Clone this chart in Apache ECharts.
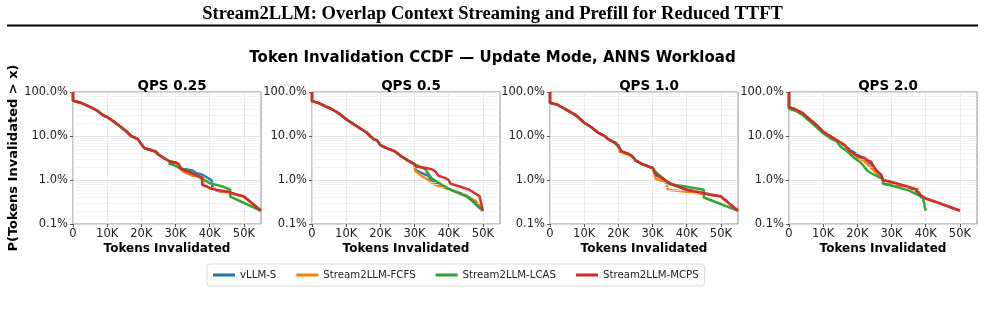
<!DOCTYPE html>
<html>
<head>
<meta charset="utf-8">
<script src="https://cdn.jsdelivr.net/npm/echarts@6/dist/echarts.min.js"></script>
<style>
  html, body { margin: 0; padding: 0; background: #fff; }
  #chart { width: 985px; height: 322px; }
</style>
</head>
<body>
<div id="chart"></div>
<script>
// panel titles and legend names
const panels = ['QPS 0.25', 'QPS 0.5', 'QPS 1.0', 'QPS 2.0'];
const methods = ['vLLM-S', 'Stream2LLM-FCFS', 'Stream2LLM-LCAS', 'Stream2LLM-MCPS'];
const colors = ['#1f77b4', '#ff7f0e', '#2ca02c', '#d62728'];
const xTicks = [0, 10000, 20000, 30000, 40000, 50000];
const yTicks = [0.1, 1, 10, 100];
const minorY = [0.2, 0.3, 0.4, 0.5, 0.6, 0.7, 0.8, 0.9, 2, 3, 4, 5, 6, 7, 8, 9, 20, 30, 40, 50, 60, 70, 80, 90];

// [tokens invalidated, P(>x) in %]
// QPS 0.25
const q025_head = [[0,100],[0,63],[2000,58],[5000,46],[7000,38],[9000,29],[10000,27],[12000,21],[14000,16],[16000,12],[17000,10],[19000,8.5],[20000,6.5],[21000,5.2],[22000,5.0],[24000,4.5],[25000,3.8],[27000,3.0],[28500,2.6],[30000,2.5]];
const q025_vllm = q025_head.concat([[31000,2.1],[32000,1.8],[35000,1.65],[36000,1.45],[38000,1.3],[40000,1.05],[40700,0.95],[40700,0.7],[42000,0.58],[46000,0.5],[50000,0.42],[55000,0.2]]);
const q025_fcfs = q025_head.concat([[31000,2.0],[32000,1.6],[33500,1.4],[35000,1.25],[37000,1.2],[38000,1.15],[38200,0.8],[40000,0.65],[42000,0.58],[46000,0.5],[50000,0.42],[55000,0.2]]);
const q025_lcas = q025_head.concat([[28000,2.4],[30000,2.1],[31000,1.9],[33000,1.7],[35000,1.4],[38000,1.05],[40000,0.85],[44000,0.7],[46000,0.6],[46000,0.42],[55000,0.2]]);
const q025_mcps = q025_head.concat([[31000,2.3],[31500,1.8],[33000,1.6],[35000,1.4],[37000,1.2],[37700,1.15],[37800,0.78],[40000,0.66],[42000,0.6],[45000,0.55],[50000,0.42],[55000,0.2]]);

// QPS 0.5
const q05_head = [[0,100],[0,62],[2000,56],[4000,47],[6000,40],[8000,32],[10000,24],[12000,19],[14000,15],[16000,12],[17000,10],[18000,8.5],[19000,8],[20000,6.2],[22000,5.2],[24000,4.6],[26000,3.5],[28000,2.8],[30000,2.3]];
const q05_vllm = q05_head.concat([[30200,1.7],[32000,1.45],[34000,1.25],[35000,0.95],[37000,0.8],[40000,0.62],[45000,0.45],[50000,0.2]]);
const q05_fcfs = q05_head.concat([[30200,1.6],[32000,1.25],[34000,1.0],[36000,0.78],[40000,0.62],[45000,0.44],[48000,0.33],[50000,0.2]]);
const q05_lcas = q05_head.concat([[30000,2.1],[33000,1.8],[35000,1.1],[38000,0.78],[40000,0.63],[46000,0.4],[50000,0.2]]);
const q05_mcps = q05_head.concat([[30500,2.0],[33000,1.9],[35000,1.75],[36000,1.6],[37000,1.25],[39000,1.1],[40000,1.0],[40500,0.82],[43000,0.72],[46000,0.6],[49000,0.43],[50000,0.2]]);

// QPS 1.0
const q10_head = [[0,100],[0,57],[2000,52],[4000,43],[6000,35],[8000,28],[10000,20],[12000,16],[14000,12],[16000,10],[17000,8.5],[19000,7],[20000,5.8],[21000,4.4],[23000,3.9],[24000,3.5],[25000,2.8],[27000,2.3],[29000,2.0],[30000,1.9]];
const q10_vllm = q10_head.slice(0, 11).concat([[17000,8.5],[19000,7.2],[20000,6.2],[20500,4.6],[23000,3.9],[24000,3.5],[25000,2.8],[27000,2.3],[29000,2.0],[30000,1.9],[31000,1.3],[33000,1.1],[34000,0.95],[36000,0.78],[40000,0.6],[45000,0.5],[50000,0.42],[55000,0.2]]);
const q10_fcfs = q10_head.slice(0, 13).concat([[20500,4.2],[23000,3.8],[24000,3.4],[25000,2.8],[27000,2.3],[29000,2.0],[30000,1.9],[31000,1.05],[33000,0.95],[34000,0.85],[34500,0.6],[40000,0.54],[45000,0.48],[50000,0.42],[55000,0.2]]);
const q10_lcas = q10_head.concat([[31000,1.5],[33000,1.1],[35000,0.8],[40000,0.7],[45000,0.6],[45000,0.4],[55000,0.2]]);
const q10_mcps = q10_head.concat([[31000,1.3],[32000,1.2],[34000,0.95],[36000,0.78],[40000,0.6],[45000,0.5],[50000,0.42],[55000,0.2]]);

// QPS 2.0
const q20_vllm = [[0,100],[0,45],[2000,40],[4000,33],[6000,24],[8000,18],[10000,12.5],[12000,10],[14000,8],[16000,6.2],[18000,4.8],[20000,3.8],[22000,3.0],[24000,2.3],[25000,1.8],[27000,1.3],[27500,0.95],[30000,0.88],[35000,0.68],[37000,0.58],[38500,0.43],[40000,0.38],[45000,0.28],[50000,0.2]];
const q20_fcfs = [[0,100],[0,45],[2000,40],[4000,33],[6000,24],[8000,18],[10000,12.5],[12000,10],[14000,8],[16000,6.4],[18000,4.2],[20000,3.3],[22000,2.7],[24000,1.9],[25000,1.6],[27500,1.05],[27500,0.9],[35000,0.68],[37500,0.65],[38500,0.45],[40000,0.38],[45000,0.28],[50000,0.2]];
const q20_lcas = [[0,100],[0,42],[2000,37],[4000,30],[6000,22],[8000,16],[10000,11.5],[12000,9],[14000,7.5],[15000,5.8],[17000,4.5],[19000,3.2],[21000,2.5],[22000,2.0],[23000,1.6],[25000,1.3],[27500,1.05],[27500,0.82],[30000,0.75],[35000,0.58],[38000,0.45],[39200,0.38],[40000,0.2]];
const q20_mcps = [[0,100],[0,45],[2000,40],[4000,33],[6000,24],[8000,18],[10000,12.5],[12000,10],[14000,8],[16000,6.5],[18000,4.5],[20000,3.5],[22000,3.2],[23000,2.8],[24000,2.6],[25000,1.9],[26000,1.5],[27000,1.3],[27500,1.0],[30000,0.9],[35000,0.7],[37000,0.62],[38500,0.45],[40000,0.38],[45000,0.28],[50000,0.2]];

const panelData = [
  [q025_vllm, q025_fcfs, q025_lcas, q025_mcps],
  [q05_vllm, q05_fcfs, q05_lcas, q05_mcps],
  [q10_vllm, q10_fcfs, q10_lcas, q10_mcps],
  [q20_vllm, q20_fcfs, q20_lcas, q20_mcps]
];

const gridLefts = [73, 312, 550, 789];
const gridW = 188, gridTop = 92, gridH = 132;

const chart = echarts.init(document.getElementById('chart'), null, { renderer: 'canvas' });

const grids = [], xAxes = [], yAxes = [], series = [], titles = [];

titles.push({
  text: 'Stream2LLM: Overlap Context Streaming and Prefill for Reduced TTFT',
  left: 'center', top: 0,
  textStyle: { fontFamily: 'Liberation Serif', fontWeight: 'bold', fontSize: 18.5, color: '#000' }
});
titles.push({
  text: 'Token Invalidation CCDF \u2014 Update Mode, ANNS Workload',
  left: 'center', top: 46,
  textStyle: { fontFamily: 'DejaVu Sans', fontWeight: 'bold', fontSize: 15, color: '#000' }
});

panels.forEach(function (name, i) {
  grids.push({ left: gridLefts[i], top: gridTop, width: gridW, height: gridH,
    show: true, borderColor: '#8c8c8c', borderWidth: 1, backgroundColor: 'transparent' });
  titles.push({
    text: name, left: gridLefts[i] + gridW / 2, top: 74, textAlign: 'center',
    textStyle: { fontFamily: 'DejaVu Sans', fontWeight: 'bold', fontSize: 13.5, color: '#000' }
  });
  xAxes.push({
    type: 'value', gridIndex: i, min: 0, max: 55000, interval: 10000,
    name: 'Tokens Invalidated', nameLocation: 'middle', nameGap: 19,
    nameTextStyle: { fontFamily: 'DejaVu Sans', fontWeight: 'bold', fontSize: 12, color: '#000' },
    axisLine: { show: false },
    axisTick: { show: true, length: 3, lineStyle: { color: '#555' },
      customValues: xTicks },
    axisLabel: { fontFamily: 'DejaVu Sans', fontSize: 11.5, color: '#222', margin: 4,
      customValues: xTicks,
      formatter: function (v) { return v === 0 ? '0' : (v / 1000) + 'K'; } },
    splitLine: { show: true, lineStyle: { color: '#e3e3e3', width: 0.8 } }
  });
  yAxes.push({
    type: 'log', logBase: 10, gridIndex: i, min: 0.1, max: 100,
    name: i === 0 ? 'P(Tokens Invalidated > x)' : '',
    nameLocation: 'middle', nameGap: 53,
    nameTextStyle: { fontFamily: 'DejaVu Sans', fontWeight: 'bold', fontSize: 13, color: '#000' },
    axisLine: { show: false },
    axisTick: { show: true, length: 3, lineStyle: { color: '#555' } },
    axisLabel: { fontFamily: 'DejaVu Sans', fontSize: 11.5, color: '#222', margin: 5,
      formatter: function (v) { return v.toFixed(1) + '%'; } },
    splitLine: { show: true, lineStyle: { color: '#dedede', width: 0.8 } }
  });
  // minor log grid lines
  series.push({
    type: 'line', xAxisIndex: i, yAxisIndex: i, data: [], silent: true, z: 1,
    markLine: {
      silent: true, symbol: ['none', 'none'], animation: false,
      label: { show: false },
      lineStyle: { color: '#efefef', width: 0.7, type: 'solid' },
      data: minorY.map(function (v) { return { yAxis: v }; })
    }
  });
  panelData[i].forEach(function (d, k) {
    series.push({
      name: methods[k], type: 'line', xAxisIndex: i, yAxisIndex: i,
      data: d, symbol: 'none', showSymbol: false, z: 3 + k,
      lineStyle: { width: 2.5, color: colors[k], opacity: 0.95 },
      itemStyle: { color: colors[k] },
      animation: false
    });
  });
});

chart.setOption({
  backgroundColor: '#fff',
  animation: false,
  title: titles,
  legend: {
    data: methods, left: 207, top: 264, icon: 'rect',
    itemWidth: 22, itemHeight: 3, itemGap: 20,
    padding: [6, 6], borderColor: '#d9d9d9', borderWidth: 1, borderRadius: 3,
    textStyle: { fontFamily: 'DejaVu Sans', fontSize: 10.2, color: '#222' }
  },
  grid: grids,
  xAxis: xAxes,
  yAxis: yAxes,
  series: series,
  graphic: [{
    type: 'line', silent: true,
    shape: { x1: 7, y1: 25.5, x2: 978, y2: 25.5 },
    style: { stroke: '#000', lineWidth: 2 }
  }]
});
</script>
</body>
</html>
